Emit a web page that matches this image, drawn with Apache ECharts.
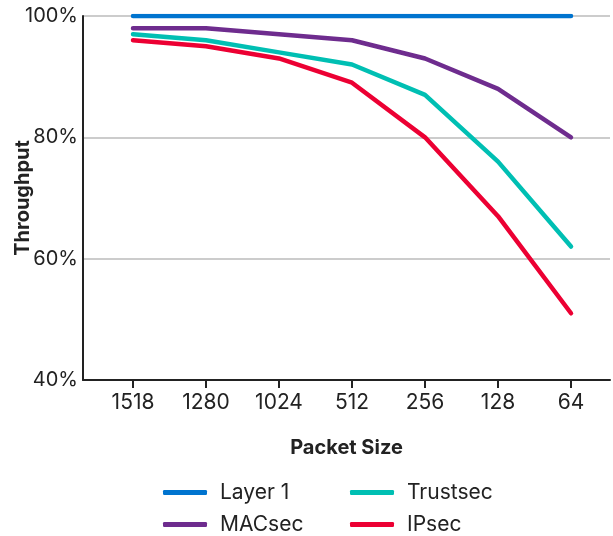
<!DOCTYPE html>
<html><head><meta charset="utf-8">
<script src="https://cdn.jsdelivr.net/npm/echarts@6/dist/echarts.min.js"></script>
<style>html,body{margin:0;padding:0;background:#fff}#c{width:613px;height:536px}</style>
</head><body><div id="c"></div>
<script>
const categories = ['1518','1280','1024','512','256','128','64'];
const layer1 = [100,100,100,100,100,100,100];
const macsec = [98,98,97,96,93,88,80];
const trustsec = [97,96,94,92,87,76,62];
const ipsec = [96,95,93,89,80,67,51];
const yTicks = [40,60,80,100];

const FONT = 'Inter, "Open Sans", sans-serif';
const OFF = 0.685;              // left padding before first category (in category units)
const pos = i => i + OFF;
const pairs = arr => arr.map((v,i)=>[pos(i),v]);
const idx = categories.map((c,i)=>pos(i));
function mk(name, data, color){
  return {name, type:'line', data:pairs(data), symbol:'none', showSymbol:false,
    lineStyle:{width:4.5, color, cap:'round', join:'round'}, itemStyle:{color}};
}
const legText = {fontFamily:FONT, fontSize:21, color:'#222', lineHeight:20, padding:[0,0,0,8]};
const chart = echarts.init(document.getElementById('c'));
chart.setOption({
  animation:false,
  grid:{left:83, top:16, right:3, bottom:156, containLabel:false, outerBoundsMode:'none'},
  xAxis:{type:'value', min:0, max:6 + OFF + 0.534, position:'bottom',
    name:'Packet Size', nameLocation:'middle', nameGap:58,
    nameTextStyle:{fontFamily:FONT, fontSize:20, fontWeight:'bold', color:'#222'},
    axisLine:{show:true, onZero:false, lineStyle:{color:'#222', width:2}},
    axisTick:{show:true, customValues:idx, length:8, lineStyle:{color:'#222', width:2}},
    axisLabel:{customValues:idx, formatter:v=>categories[Math.round(v - OFF)], fontFamily:FONT, fontSize:21, color:'#222', margin:12},
    splitLine:{show:false}},
  yAxis:{type:'value', min:yTicks[0], max:yTicks[yTicks.length-1], interval:20, position:'left',
    name:'Throughput', nameLocation:'middle', nameGap:50, nameRotate:90, nameMoveOverlap:false,
    nameTextStyle:{fontFamily:FONT, fontSize:20, fontWeight:'bold', color:'#222'},
    axisLine:{show:true, lineStyle:{color:'#222', width:2}},
    axisTick:{show:false},
    axisLabel:{formatter:'{value}%', fontFamily:FONT, fontSize:20, color:'#222', margin:5},
    splitLine:{show:true, lineStyle:{color:'#cccccc', width:2}}},
  legend:[
    {left:163, top:482, height:54, padding:0, orient:'vertical', itemWidth:44, itemHeight:5, itemGap:11, icon:'roundRect',
     data:['Layer 1','MACsec'], textStyle:legText},
    {left:350, top:482, height:54, padding:0, orient:'vertical', itemWidth:44, itemHeight:5, itemGap:11, icon:'roundRect',
     data:['Trustsec','IPsec'], textStyle:legText}
  ],
  series:[
    mk('Layer 1', layer1, '#0074CF'),
    mk('MACsec', macsec, '#6E2C8E'),
    mk('Trustsec', trustsec, '#00BFB3'),
    mk('IPsec', ipsec, '#EC0033')
  ]
});
</script></body></html>
